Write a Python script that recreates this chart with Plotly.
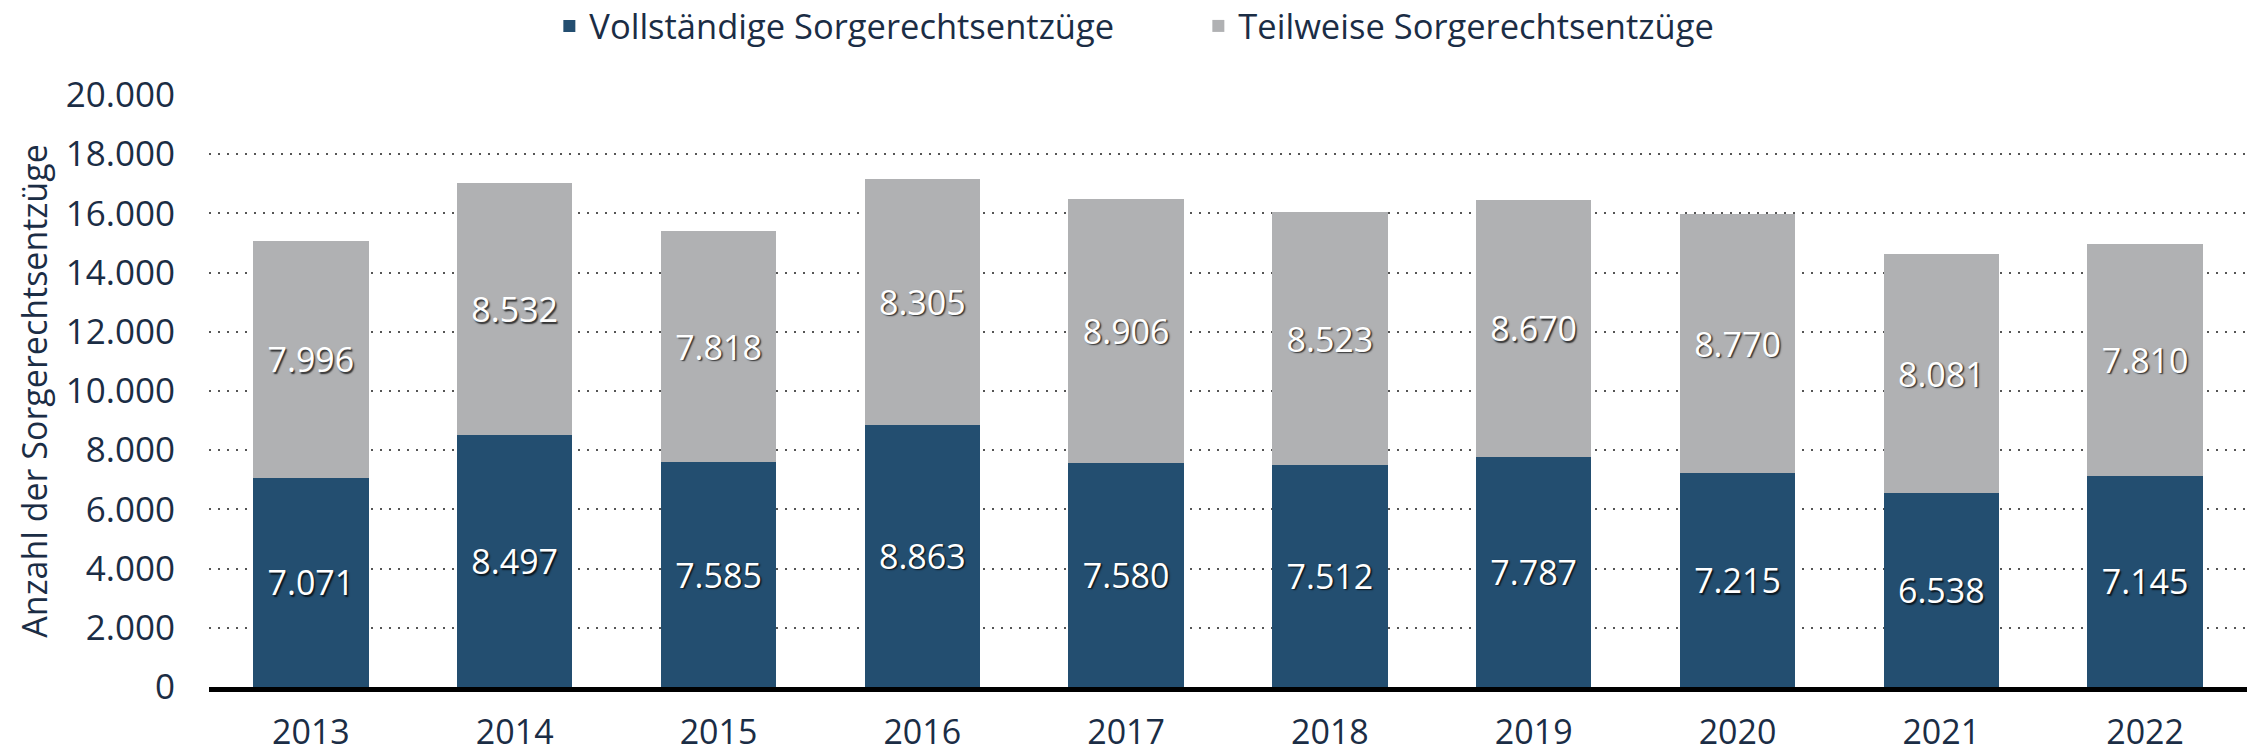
import plotly.graph_objects as go

# ---- data ----
years = ["2013", "2014", "2015", "2016", "2017", "2018", "2019", "2020", "2021", "2022"]
vollstaendig = [7071, 8497, 7585, 8863, 7580, 7512, 7787, 7215, 6538, 7145]
teilweise = [7996, 8532, 7818, 8305, 8906, 8523, 8670, 8770, 8081, 7810]
series_names = ["Vollständige Sorgerechtsentzüge", "Teilweise Sorgerechtsentzüge"]
y_ticks = [0, 2000, 4000, 6000, 8000, 10000, 12000, 14000, 16000, 18000, 20000]
y_title = "Anzahl der Sorgerechtsentzüge"

# ---- style ----
BLUE = "#234E70"
GREY = "#B0B1B3"
TEXT = "#1B2D45"
FONT = "Open Sans"

fig = go.Figure()
for name, vals, color in [(series_names[0], vollstaendig, BLUE),
                          (series_names[1], teilweise, GREY)]:
    fig.add_trace(go.Bar(
        x=years, y=vals, name=name,
        marker=dict(color=color, line=dict(width=0)),
        texttemplate="%{y:,}",
        textposition="inside",
        insidetextanchor="middle",
        textangle=0,
        constraintext="none",
        textfont=dict(family=FONT, size=34, color="white",
                      shadow="1.5px 1.5px 1.5px rgba(0,0,0,0.75)"),
        hoverinfo="skip",
    ))

fig.update_layout(
    barmode="stack",
    bargap=0.433,
    separators=",.",
    width=2257, height=756,
    margin=dict(l=209, r=10, t=95, b=69, pad=0, autoexpand=False),
    plot_bgcolor="white", paper_bgcolor="white",
    font=dict(family=FONT, size=34, color=TEXT),
    legend=dict(
        orientation="h",
        x=0.167, xanchor="left",
        yref="container", y=1 - 26 / 756, yanchor="middle",
        entrywidth=604, entrywidthmode="pixels",
        font=dict(family=FONT, size=34.5, color=TEXT),
        traceorder="normal",
        bgcolor="rgba(0,0,0,0)",
    ),
    xaxis=dict(
        type="category",
        automargin=False,
        showline=True, linecolor="black", linewidth=5,
        ticks="", showgrid=False, zeroline=False,
        tickfont=dict(family=FONT, size=34, color=TEXT),
        ticklabelstandoff=11,
    ),
    yaxis=dict(
        range=[0, 20000],
        automargin=False,
        tickvals=y_ticks,
        tickformat=",",
        showgrid=True, gridcolor="#555555", gridwidth=1.5, griddash="2px,7px",
        zeroline=False, showline=False, ticks="",
        tickfont=dict(family=FONT, size=35, color=TEXT),
        ticklabelstandoff=33,
        title=dict(text=y_title, font=dict(family=FONT, size=34, color=TEXT), standoff=7),
    ),
)

fig.write_html("out.html", config={"displayModeBar": False},
               post_script="document.body.style.margin='0';")
